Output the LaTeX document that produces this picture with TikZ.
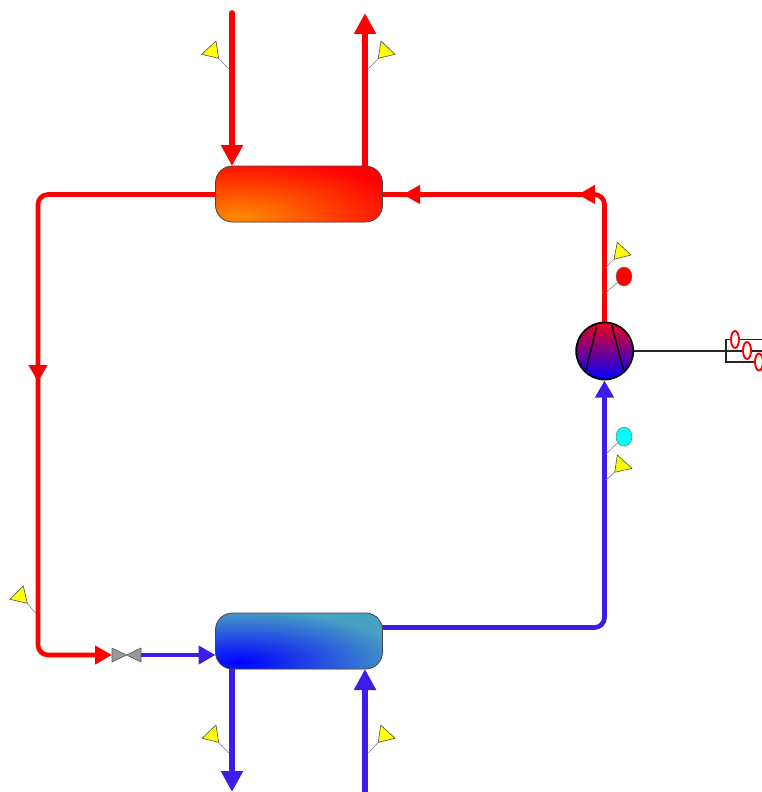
\documentclass[tikz,border=0pt]{standalone}
\usetikzlibrary{arrows.meta,shapes.geometric}
\definecolor{hot}{RGB}{255,0,0}
\definecolor{cold}{RGB}{60,30,230}
\definecolor{hxedge}{RGB}{70,70,70}
\definecolor{flagyellow}{RGB}{255,255,0}
\definecolor{sensorcyan}{RGB}{0,255,255}
\definecolor{hotcore}{RGB}{255,140,0}
\definecolor{coldcore}{RGB}{0,0,255}
\definecolor{coldrim}{RGB}{72,160,195}
\definecolor{comptop}{RGB}{235,0,30}
\tikzset{
  hotpipe/.style={draw=hot,line width=4.7pt},
  coldpipe/.style={draw=cold,line width=4.7pt},
  hotflow/.style={draw=hot,line width=5.6pt},
  coldflow/.style={draw=cold,line width=5.6pt},
  bigtip/.style={-{Triangle[length=21pt,width=21pt]}},
  smalltip/.style={-{Triangle[length=17pt,width=18pt]}},
  overlapstart/.style={shorten <=-8pt},
  exchanger/.style={draw=hxedge,line width=0.8pt,rounded corners=17pt,minimum width=167pt,minimum height=56pt,inner sep=0pt},
  flagmark/.style={draw=black!70,fill=flagyellow,line width=0.6pt,line join=round},
  leader/.style={draw=gray,line width=0.6pt},
  sensor/.style={ellipse,draw=black!55,line width=0.5pt,minimum width=16pt,minimum height=19pt,inner sep=0pt},
  winding/.style={ellipse,draw=hot,fill=white,line width=1.9pt,minimum width=8pt,minimum height=17pt,inner sep=0pt},
  valvepart/.style={draw=black!65,fill=black!40,line width=0.6pt,line join=miter},
}
\begin{document}
\begin{tikzpicture}[x=1pt,y=-1pt]
\useasboundingbox (0,0) rectangle (762,792);

% named free ends and bends
\coordinate (srcA) at (232,13);
\coordinate (inA) at (232,166);
\coordinate (outB) at (365,166);
\coordinate (endB) at (365,13);
\coordinate (condL) at (215.5,194.5);
\coordinate (condR) at (382.5,194.5);
\coordinate (bendTL) at (38,194.5);
\coordinate (midL) at (38,382);
\coordinate (bendBL) at (38,655);
\coordinate (valveL) at (112,655);
\coordinate (valveC) at (126.5,655);
\coordinate (valveR) at (141,655);
\coordinate (evapIn) at (215.5,655);
\coordinate (evapOut) at (382,627.5);
\coordinate (bendBR) at (604.5,627.5);
\coordinate (compIn) at (604.5,380.5);
\coordinate (compOut) at (604.5,322);
\coordinate (bendTR) at (604.5,194.5);
\coordinate (midT) at (578,194.5);
\coordinate (midC) at (403,194.5);
\coordinate (outC) at (232,669);
\coordinate (endC) at (232,792);
\coordinate (srcD) at (365,792);
\coordinate (inD) at (365,669);

% pipes
\draw[hotflow,line cap=round,bigtip] (srcA) -- (inA);
\draw[hotflow,bigtip] (outB) -- (endB);
\draw[hotpipe,rounded corners=10pt,smalltip] (condL) -- (bendTL) -- (midL);
\draw[hotpipe,rounded corners=10pt,smalltip,overlapstart] (midL) -- (bendBL) -- (valveL);
\draw[coldpipe,smalltip] (valveR) -- (evapIn);
\draw[coldpipe,rounded corners=10pt,smalltip] (evapOut) -- (bendBR) -- (compIn);
\draw[hotpipe,rounded corners=10pt,smalltip] (compOut) -- (bendTR) -- (midT);
\draw[hotpipe,smalltip,overlapstart] (midT) -- (midC);
\draw[hotpipe,overlapstart] (midC) -- (condR);
\draw[coldflow,bigtip] (outC) -- (endC);
\draw[coldflow,bigtip] (srcD) -- (inD);

% heat exchangers
\node[exchanger,fill=hot,path picture={
  \shade[inner color=hotcore,outer color=hot]
    ([xshift=24pt,yshift=4pt]path picture bounding box.south west) ellipse [x radius=170,y radius=60];
}] (cond) at (299,194) {};
\node[exchanger,fill=coldrim,path picture={
  \shade[inner color=coldcore,outer color=coldrim]
    ([xshift=24pt,yshift=7pt]path picture bounding box.south west) ellipse [x radius=165,y radius=52];
}] (evap) at (299,641) {};

% valve
\draw[valvepart] (112,648) -- (valveC) -- (112,662) -- cycle;
\draw[valvepart] (141,648) -- (valveC) -- (141,662) -- cycle;

% shaft and motor
\coordinate (motorTL) at (726,339.5);
\coordinate (motorBL) at (726,362);
\coordinate (motorTR) at (762,339.5);
\coordinate (motorBR) at (762,362);
\coordinate (shaftEnd) at (762,351);
\draw[black!85,line width=1.1pt] (motorTR) -- (motorTL) -- (motorBL) -- (motorBR);

% compressor
\node[circle,draw=black,line width=1.8pt,minimum size=57pt,inner sep=0pt,
      top color=comptop,bottom color=coldcore] (comp) at (604.7,351) {};
\draw[black!85,line width=1.1pt] (comp.east) -- (shaftEnd);
\node[winding] (w1) at (735,339.5) {};
\node[winding] (w2) at (747,350.5) {};
\node[winding] (w3) at (759,362) {};
\coordinate (bladeA1) at (596.7,326.5);
\coordinate (bladeA2) at (586,369.5);
\coordinate (bladeB1) at (611.7,325);
\coordinate (bladeB2) at (623.3,369.5);
\draw[black,line width=1.5pt] (bladeA1) -- (bladeA2);
\draw[black,line width=1.5pt] (bladeB1) -- (bladeB2);

% sensors
\node[sensor,fill=hot] (sensH) at (624,276.5) {};
\node[sensor,fill=sensorcyan] (sensC) at (624,436.7) {};
\coordinate (pipeH) at (606,292.7);
\coordinate (pipeC) at (606,454);
\draw[leader] (sensH) -- (pipeH);
\draw[leader] (sensC) -- (pipeC);

% flags
\coordinate (f1a) at (218.6,58.3); \coordinate (p1) at (228.7,69);
\draw[leader] (f1a) -- (p1);
\draw[flagmark] (201.7,54.3) -- (216,41) -- (f1a) -- cycle;
\coordinate (f2a) at (378.3,58.3); \coordinate (p2) at (368.3,69);
\draw[leader] (f2a) -- (p2);
\draw[flagmark] (f2a) -- (381,41) -- (395,54.3) -- cycle;
\coordinate (f3a) at (218.6,742.3); \coordinate (p3) at (228.7,753);
\draw[leader] (f3a) -- (p3);
\draw[flagmark] (202,738.3) -- (216,725) -- (f3a) -- cycle;
\coordinate (f4a) at (378.3,742.3); \coordinate (p4) at (368.3,753);
\draw[leader] (f4a) -- (p4);
\draw[flagmark] (f4a) -- (380.7,725) -- (395,738.3) -- cycle;
\coordinate (f5a) at (27.3,603.3); \coordinate (p5) at (35.7,613.3);
\draw[leader] (f5a) -- (p5);
\draw[flagmark] (10,599.3) -- (23.3,586) -- (f5a) -- cycle;
\coordinate (f6a) at (614,259.3); \coordinate (p6) at (606,267.3);
\draw[leader] (f6a) -- (p6);
\draw[flagmark] (617.3,242.3) -- (631,255) -- (f6a) -- cycle;
\coordinate (f7a) at (614.7,472.3); \coordinate (p7) at (606,480);
\draw[leader] (f7a) -- (p7);
\draw[flagmark] (617.3,455) -- (632,468.3) -- (f7a) -- cycle;
\end{tikzpicture}
\end{document}
